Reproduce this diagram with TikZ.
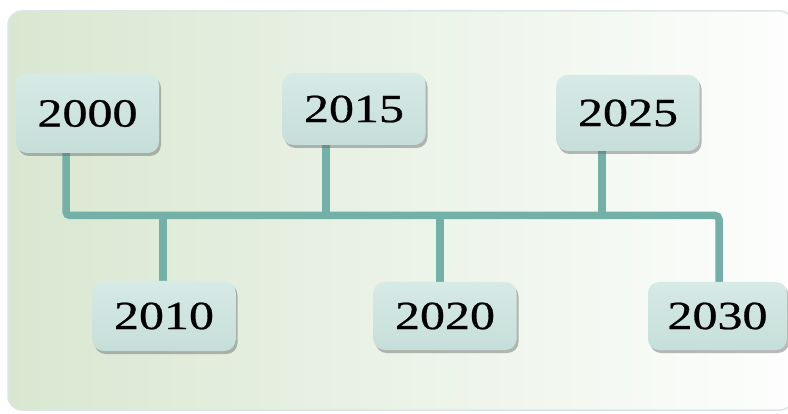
\documentclass[tikz,border=0pt]{standalone}
\usepackage{fontspec}
\setmainfont{Liberation Serif}
\newfontfamily\yrfont[FakeBold=0.6]{Liberation Serif}
\usetikzlibrary{shadows}
\pgfdeclarelayer{bg}
\pgfdeclarelayer{lines}
\pgfsetlayers{bg,lines,main}
\definecolor{bgl}{HTML}{D9E7D1}
\definecolor{bgr}{HTML}{FDFEFD}
\definecolor{bord}{HTML}{D8E7E5}
\definecolor{connc}{HTML}{72B0A8}
\definecolor{boxtop}{HTML}{D6EAE6}
\definecolor{boxmid}{HTML}{C9E1DC}
\definecolor{boxbot}{HTML}{C6DED9}
\tikzset{
  yearbox/.style={rounded corners=11pt, minimum width=143pt, inner sep=0pt,
    top color=boxtop, middle color=boxmid, bottom color=boxbot,
    drop shadow={shadow xshift=2pt, shadow yshift=-3pt, fill=black!60, opacity=0.45},
    font=\yrfont\fontsize{40}{40}\selectfont, text=black},
  connline/.style={draw=connc, line width=7.5pt, rounded corners=4pt}
}
\newcommand{\yr}[1]{\scalebox{1.25}[1]{#1}}
\begin{document}
\begin{tikzpicture}[x=1pt,y=1pt]
\useasboundingbox (0,0) rectangle (788,413);
\begin{pgfonlayer}{bg}
\path[left color=bgl, right color=bgr, draw=bord, line width=1.5pt, rounded corners=14pt] (8,3) rectangle (794,402);
\end{pgfonlayer}

\coordinate (L) at (66,197.5);
\coordinate (R) at (719,197.5);
\coordinate (s2015) at (326,197.5);
\coordinate (s2025) at (602,197.5);
\coordinate (s2010) at (163,197.5);
\coordinate (s2020) at (440,197.5);

\node[yearbox, minimum height=79pt] (b2000) at (87.5,299.5) {\yr{2000}};
\node[yearbox, minimum height=72pt] (b2015) at (354,304) {\yr{2015}};
\node[yearbox, minimum height=76pt] (b2025) at (628,300) {\yr{2025}};
\node[yearbox, minimum height=70pt] (b2010) at (164,97) {\yr{2010}};
\node[yearbox, minimum height=68pt] (b2020) at (445,97) {\yr{2020}};
\node[yearbox, minimum height=68pt, minimum width=139pt] (b2030) at (717.5,97) {\yr{2030}};

\begin{pgfonlayer}{lines}
\draw[connline] (L |- b2000.south) -- (L) -- (R) -- (R |- b2030.north);
\draw[connline] (s2015) -- (s2015 |- b2015.south);
\draw[connline] (s2025) -- (s2025 |- b2025.south);
\draw[connline] (s2010) -- (s2010 |- b2010.north);
\draw[connline] (s2020) -- (s2020 |- b2020.north);
\end{pgfonlayer}
\end{tikzpicture}
\end{document}
